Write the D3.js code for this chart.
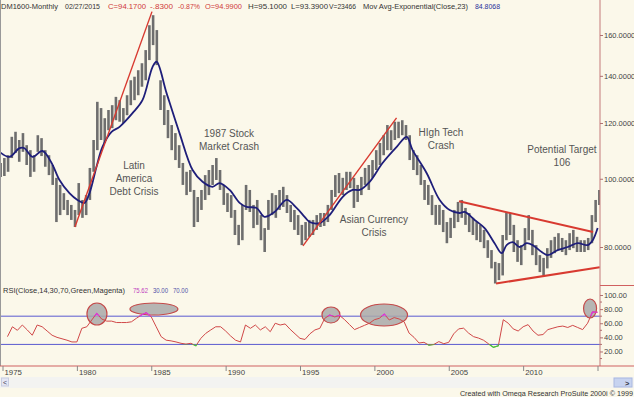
<!DOCTYPE html>
<html>
<head>
<meta charset="utf-8">
<script src="https://cdn.jsdelivr.net/npm/d3@7"></script>
<style>
  body { margin: 0; background: #fbf8ea; }
  svg { display: block; font-family: "Liberation Sans", Arial, sans-serif; }
</style>
</head>
<body>
<div id="wrapper"></div>
<script>
// quarterly high / low of the monthly bars, first quarter = Q4 1974
const barStart = 1974.75;
const barHigh = [105.3,
  107.0, 108.0, 114.7, 116.6,  113.5, 116.1, 111.6, 109.8,  108.0, 115.3, 114.2, 109.8,
  108.0, 104.6, 100.3, 98.0,   95.4, 93.3, 91.8, 90.3,      98.6, 93.3, 94.8, 103.6,
  113.5, 128.6, 126.0, 121.9,  125.2, 127.2, 130.7, 129.3,  126.0, 131.4, 138.0, 139.6,
  142.6, 145.9, 152.3, 165.2,  170.7, 162.6, 138.0, 131.4,  125.2, 119.2, 116.1, 111.6,
  105.3, 102.3, 102.9, 96.4,   94.2, 96.4, 101.2, 102.9,    104.6, 107.0, 102.9, 98.0,
  95.4, 94.8, 90.3, 86.0,      91.8, 98.0, 96.4, 91.8,      93.3, 88.8, 85.1, 93.3,
  95.4, 94.8, 96.4, 97.4,      94.8, 91.8, 90.3, 88.8,      86.0, 86.8, 87.4, 87.4,
  88.8, 89.4, 89.4, 91.8,      96.4, 101.2, 101.9, 100.3,   102.3, 102.3, 100.3, 98.0,
  100.6, 103.6, 104.6, 106.3,  109.8, 112.4, 115.3, 119.2,  117.2, 120.5, 120.5, 121.1,
  119.2, 115.3, 109.8, 108.0,  104.6, 99.6, 98.0, 94.8,     91.8, 91.8, 90.3, 86.8,
  88.0, 90.3, 92.7, 93.3,      90.9, 89.4, 88.0, 86.8,      86.0, 84.6, 81.8, 79.2,
  76.2, 75.9, 83.2, 89.4,      89.4, 86.0, 81.8, 80.5,      85.1, 88.8, 84.6, 80.5,
  77.9, 77.2, 79.7, 81.8,      82.7, 83.7, 82.4, 81.8,      83.7, 84.6, 82.7, 81.8,
  81.8, 82.4, 88.8, 93.3,      96.4];
const barLow = [100.6,
  100.9, 102.3, 107.0, 108.8,  105.7, 109.2, 104.6, 100.6,  102.3, 109.2, 107.7, 104.0,
  101.2, 98.0, 86.8, 88.8,     90.3, 88.8, 87.4, 85.4,      88.8, 88.0, 88.8, 93.3,
  102.3, 109.8, 113.5, 112.4,  117.2, 118.0, 121.1, 120.5,  120.0, 123.1, 127.2, 129.3,
  131.4, 135.1, 138.0, 147.4,  154.8, 145.0, 125.2, 119.2,  114.2, 109.8, 106.3, 103.6,
  98.0, 94.8, 95.8, 85.4,      86.8, 90.3, 93.3, 94.8,      98.0, 99.6, 96.4, 91.8,
  89.7, 88.0, 83.2, 80.5,      81.8, 90.3, 89.7, 85.1,      86.0, 81.8, 78.7, 84.6,
  88.8, 88.0, 90.3, 91.2,      89.4, 86.8, 84.6, 83.2,      80.5, 81.8, 82.7, 83.2,
  84.6, 85.4, 85.7, 86.8,      90.3, 94.2, 95.4, 94.8,      96.4, 97.0, 90.9, 92.7,
  94.8, 98.0, 96.4, 100.3,     102.9, 104.6, 108.0, 109.8,  109.8, 113.5, 114.2, 115.3,
  113.5, 106.3, 102.9, 101.2,  98.0, 93.3, 91.8, 88.8,      86.0, 86.0, 84.0, 81.0,
  82.4, 85.1, 86.8, 88.0,      86.0, 84.0, 83.2, 81.8,      81.3, 79.7, 77.2, 74.6,
  71.0, 71.8, 72.9, 81.8,      83.2, 78.7, 76.2, 75.4,      79.2, 81.8, 77.9, 75.4,
  73.7, 72.9, 74.6, 77.2,      78.4, 79.2, 78.7, 77.9,      79.2, 79.7, 78.7, 78.7,
  78.7, 79.2, 81.0, 86.8,      91.8];

// exponential moving average (23)
const emaYear = [1974.8, 1975.47, 1976.14, 1976.48, 1977.02, 1977.69, 1978.3, 1978.83, 1979.5, 1980.04,
  1980.51, 1980.85, 1981.32, 1981.72, 1982.33, 1982.87, 1983.74, 1984.41, 1985.09, 1985.36,
  1986.03, 1986.9, 1987.78, 1988.45, 1989.12, 1989.59, 1990.27, 1990.94, 1991.41, 1992.08,
  1992.62, 1993.29, 1994.1, 1994.77, 1995.31, 1995.65, 1996.32, 1996.99, 1997.86, 1998.54,
  1999.01, 1999.68, 2000.55, 2001.5, 2002.17, 2002.57, 2003.51, 2004.39, 2005.06, 2005.73,
  2006.07, 2006.74, 2007.41, 2008.08, 2008.56, 2008.89, 2009.3, 2009.77, 2010.24, 2010.64,
  2011.25, 2011.65, 2012.32, 2013.0, 2013.67, 2014.34, 2014.68, 2015.01];
const emaValue = [109.2, 107.4, 110.5, 110.5, 107.4, 109.5, 105.3, 99.6, 95.4, 93.3,
  92.4, 95.4, 104.0, 111.0, 116.6, 118.5, 123.9, 129.3, 144.2, 146.6,
  132.3, 116.1, 102.9, 99.0, 97.4, 98.6, 96.4, 92.4, 91.2, 90.9,
  88.3, 89.7, 93.3, 90.9, 88.3, 86.8, 86.5, 88.8, 94.2, 96.4,
  96.4, 99.0, 105.3, 111.0, 114.7, 109.8, 101.9, 93.3, 90.3, 89.4,
  89.7, 87.4, 85.1, 81.0, 78.4, 80.5, 81.3, 80.0, 81.0, 80.5,
  78.7, 77.9, 79.2, 80.0, 81.0, 80.5, 81.8, 85.1];

// RSI(14) sampled every four months from 1975 + 1/3
const rsiStart = 1975 + 1 / 3;
const rsiValue = [41, 55, 50, 57.5, 50.5, 43, 57.5, 55, 49, 43,
  40, 38, 36, 33.5, 33.5, 52.8, 55, 64.6, 74, 66,
  63, 63, 61, 61, 61, 62, 67, 71.6, 75, 69,
  55, 41, 36, 35, 33.5, 31.6, 30.5, 31.6, 28, 38.6,
  45.7, 50.5, 55, 55, 49, 42, 36, 33.5, 57.5, 52.8,
  57.5, 50.5, 55, 48, 60, 57.5, 59, 51.5, 45, 38.6,
  37, 45, 50.5, 52.8, 67, 71.6, 69, 71, 65, 58,
  51, 54, 57, 60, 65, 67, 73, 64.6, 68, 66,
  62, 46, 40, 32, 33, 29, 30, 34, 31, 33,
  45, 52, 53, 46, 41, 39, 36, 31, 26, 28,
  65, 60, 52, 49, 55, 58, 49, 43, 44, 51,
  53, 55, 56, 54, 57, 54, 51, 60, 76, 75.6];

const yearTicks = [1975, 1980, 1985, 1990, 1995, 2000, 2005, 2010, 2015];
const priceTicks = [80, 100, 120, 140, 160];
const rsiTicks = [20, 40, 60, 80, 100];
const rsiMinor = [10, 30, 50, 70, 90];

// trend lines drawn on the chart: [year, value] pairs
const trendLines = [
  [[1979.87, 85.4], [1985.05, 172.7]],
  [[1995.2, 80.3], [2001.49, 122.0]],
  [[2005.69, 92.9], [2014.7, 84.0]],
  [[2008.18, 71.0], [2015.15, 74.9]]
];
// circled overbought zones on the RSI: [year, rsi]
const rsiZones = [[1981.35, 73.1], [1985.18, 80.2], [1997.08, 71.7], [2000.65, 71.7], [2014.5, 80.9]];

const W = 634, H = 397;
const axisX = 600;

const svg = d3.select("#wrapper").append("svg").attr("width", W).attr("height", H);

const x = d3.scaleLinear().domain([1975, 2015]).range([2.5, 597.5]);
const y = d3.scaleLog().domain([80, 160]).range([247, 35]);
const yr = d3.scaleLinear().domain([0, 100]).range([365.6, 295]);

svg.append("rect").attr("width", W).attr("height", H).attr("fill", "#fbf8ea");

const defs = svg.append("defs");
defs.append("clipPath").attr("id", "mainClip")
  .append("rect").attr("x", 0).attr("y", 10).attr("width", axisX).attr("height", 275);
defs.append("clipPath").attr("id", "hiClip")
  .append("rect").attr("x", 0).attr("y", 285).attr("width", axisX).attr("height", yr(70) - 285);
defs.append("clipPath").attr("id", "loClip")
  .append("rect").attr("x", 0).attr("y", yr(30)).attr("width", axisX).attr("height", 366 - yr(30));

// header line: text, left, width, colour
const header = [
  ["DM1600-Monthly", 1, 57, "#333"], ["02/27/2015", 65, 35, "#333"],
  ["C=94.1700", 108, 38, "#d03a3a"], ["-.8300", 150, 23, "#d03a3a"], ["-0.87%", 178, 22, "#d03a3a"],
  ["O=94.9900", 205, 37, "#d03a3a"], ["H=95.1000", 248, 39, "#333"], ["L=93.3900", 291, 37, "#333"],
  ["V=23466", 329, 27, "#333"], ["Mov Avg-Exponential(Close,23)", 363, 105, "#333"], ["84.8068", 475, 25, "#28309a"]
];
svg.append("g").selectAll("text").data(header).join("text")
  .attr("x", d => d[1]).attr("y", 8.5)
  .attr("textLength", d => d[2]).attr("lengthAdjust", "spacingAndGlyphs")
  .attr("fill", d => d[3]).style("font-size", "7.8px")
  .text(d => d[0]);

// price panel
const main = svg.append("g").attr("clip-path", "url(#mainClip)");

const quarters = barHigh.map((h, i) => ({ t: barStart + i * 0.25 + 0.125, h: h, l: barLow[i] }));
main.append("g").selectAll("line").data(quarters).join("line")
  .attr("x1", d => x(d.t)).attr("x2", d => x(d.t))
  .attr("y1", d => y(d.h)).attr("y2", d => y(d.l))
  .attr("stroke", "#6e6e6e").attr("stroke-width", 2.6);

const ema = emaYear.map((t, i) => [t, emaValue[i]]);
const emaLine = d3.line().x(d => x(d[0])).y(d => y(d[1])).curve(d3.curveCatmullRom);
main.append("path").attr("d", emaLine(ema))
  .attr("fill", "none").attr("stroke", "#1e1e7a").attr("stroke-width", 1.8);

main.append("g").selectAll("line").data(trendLines).join("line")
  .attr("x1", d => x(d[0][0])).attr("y1", d => y(d[0][1]))
  .attr("x2", d => x(d[1][0])).attr("y2", d => y(d[1][1]))
  .attr("stroke", "#d83a30").attr("stroke-width", (d, i) => i < 2 ? 1.4 : 2);

// annotations
const notes = [
  [["Latin", "America", "Debt Crisis"], 1983.84, 103.2],
  [["1987 Stock", "Market Crash"], 1990.23, 114.7],
  [["Asian Currency", "Crisis"], 1999.97, 86.5],
  [["HIgh Tech", "Crash"], 2004.48, 115.1],
  [["Potential Target", "106"], 2012.61, 108.8]
];
notes.forEach(n => {
  const t = svg.append("text").attr("text-anchor", "middle")
    .attr("fill", "#555").style("font-size", "10px");
  n[0].forEach((s, i) => {
    t.append("tspan").attr("x", x(n[1])).attr("y", y(n[2]) + i * 13).text(s);
  });
});

// RSI panel
const rsiHead = [
  ["RSI(Close,14,30,70,Green,Magenta)", 3, 122, "#333"], ["75.62", 133, 15, "#c040c0"],
  ["30.00", 153, 15, "#5050a8"], ["70.00", 173, 15, "#5050a8"]
];
svg.append("g").selectAll("text").data(rsiHead).join("text")
  .attr("x", d => d[1]).attr("y", 293)
  .attr("textLength", d => d[2]).attr("lengthAdjust", "spacingAndGlyphs")
  .attr("fill", d => d[3]).style("font-size", "7.8px")
  .text(d => d[0]);

svg.append("g").selectAll("line").data([70, 30]).join("line")
  .attr("x1", 0).attr("x2", axisX).attr("y1", d => yr(d)).attr("y2", d => yr(d))
  .attr("stroke", "#5a5ad0").attr("stroke-width", 1);

svg.append("g").selectAll("ellipse").data(rsiZones).join("ellipse")
  .attr("cx", d => x(d[0])).attr("cy", d => yr(d[1]))
  .attr("rx", (d, i) => [10, 24, 9, 23.5, 6.5][i])
  .attr("ry", (d, i) => [11, 6, 8, 11, 9.5][i])
  .attr("fill", "#a9a9a9").attr("fill-opacity", 0.85)
  .attr("stroke", "#c44a4a").attr("stroke-width", 1.2);

const rsi = rsiValue.map((v, i) => [rsiStart + i / 3, v]);
const rsiLine = d3.line().x(d => x(d[0])).y(d => yr(d[1]));
svg.append("path").attr("d", rsiLine(rsi)).attr("fill", "none")
  .attr("stroke", "#d04848").attr("stroke-width", 1);
svg.append("path").attr("d", rsiLine(rsi)).attr("fill", "none").attr("clip-path", "url(#hiClip)")
  .attr("stroke", "#e030e0").attr("stroke-width", 1.2);
svg.append("path").attr("d", rsiLine(rsi)).attr("fill", "none").attr("clip-path", "url(#loClip)")
  .attr("stroke", "#3ccf3c").attr("stroke-width", 1.2);

// frame lines
svg.append("line").attr("x1", 0.5).attr("x2", 0.5).attr("y1", 0).attr("y2", 366)
  .attr("stroke", "#999");
svg.append("line").attr("x1", axisX).attr("x2", axisX).attr("y1", 0).attr("y2", 366)
  .attr("stroke", "#c47a7a");
svg.append("line").attr("x1", axisX).attr("x2", W).attr("y1", 285.5).attr("y2", 285.5)
  .attr("stroke", "#d06060");
svg.append("line").attr("x1", 0).attr("x2", W).attr("y1", 366).attr("y2", 366)
  .attr("stroke", "#d06060").attr("stroke-width", 1.2);

// right axes
const yAxis = d3.axisRight(y).tickValues(priceTicks).tickFormat(d3.format(".4f")).tickSize(3).tickPadding(1);
const gy = svg.append("g").attr("transform", `translate(${axisX},0)`).call(yAxis);
const rAxis = d3.axisRight(yr).tickValues(rsiTicks).tickFormat(d3.format(".2f")).tickSize(3).tickPadding(1);
const gr = svg.append("g").attr("transform", `translate(${axisX},0)`).call(rAxis);
svg.append("g").selectAll("line").data(rsiMinor).join("line")
  .attr("x1", axisX).attr("x2", axisX + 2).attr("y1", d => yr(d)).attr("y2", d => yr(d))
  .attr("stroke", "#b07070");
[gy, gr].forEach(g => {
  g.select(".domain").remove();
  g.selectAll(".tick line").attr("stroke", "#b07070");
  g.selectAll(".tick text").attr("fill", "#444").style("font-size", "7.5px")
    .style("font-family", "'Liberation Sans', Arial, sans-serif");
});

// bottom year axis
const xAxis = d3.axisBottom(x).tickValues(yearTicks).tickSize(5)
  .tickFormat(d => d === 2015 ? "" : d);
const gx = svg.append("g").attr("transform", "translate(0,366)").call(xAxis);
gx.select(".domain").remove();
gx.selectAll(".tick line").attr("stroke", "#888");
gx.selectAll(".tick text").attr("text-anchor", "start").attr("x", 1.5).attr("y", 3)
  .attr("fill", "#444").style("font-size", "7.8px")
  .style("font-family", "'Liberation Sans', Arial, sans-serif");

// scroll bar and credit
svg.append("rect").attr("x", 0).attr("y", 377).attr("width", W).attr("height", 11).attr("fill", "#f3f3f1");
svg.append("rect").attr("x", 1.5).attr("y", 378).attr("width", 7).attr("height", 8)
  .attr("fill", "#e4e6f4").attr("stroke", "#c8cce0");
svg.append("text").attr("x", 3).attr("y", 385).attr("fill", "#445").style("font-size", "7px").text("<");
svg.append("rect").attr("x", 614).attr("y", 378).attr("width", 18).attr("height", 9)
  .attr("fill", "#c7d3f0").attr("stroke", "#aab8e0");
svg.append("text").attr("x", 625).attr("y", 385.5).attr("fill", "#334").style("font-size", "7.5px")
  .style("font-weight", "bold").text(">");
svg.append("text").attr("x", W - 1).attr("y", 396).attr("text-anchor", "end")
  .attr("fill", "#333").style("font-size", "7.2px")
  .text("Created with Omega Research ProSuite 2000i \u00a9 1999");
</script>
</body>
</html>
